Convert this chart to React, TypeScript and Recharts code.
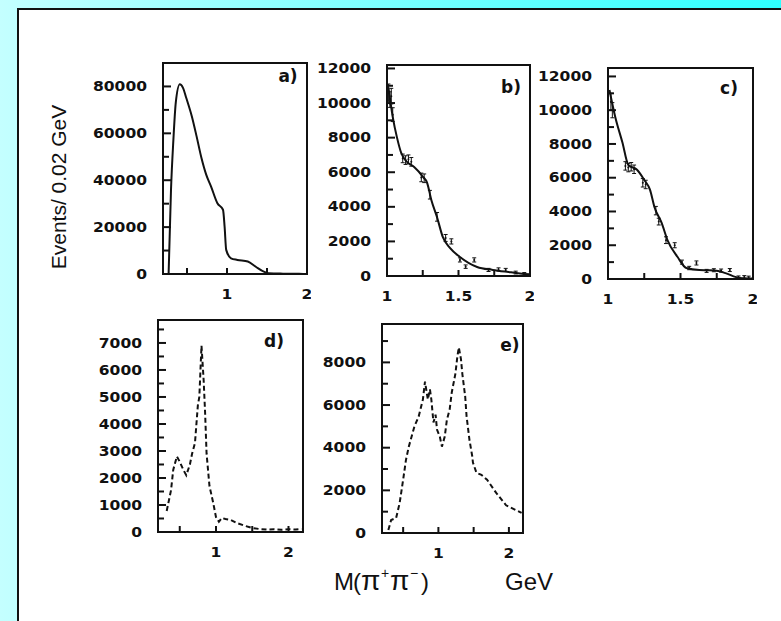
import React from "react";
import { ComposedChart, Line, Scatter, ErrorBar, XAxis, YAxis, ReferenceArea } from "recharts";

// a) full pi+pi- mass spectrum
const aMass = [0.27, 0.3, 0.33, 0.36, 0.41, 0.45, 0.49, 0.56, 0.62, 0.68, 0.74, 0.8, 0.88, 0.95, 0.97, 0.99, 1.05, 1.13, 1.26, 1.36, 1.46, 1.52, 1.6, 1.7, 1.8, 1.9, 2.0];
const aEvents = [0, 35900, 57300, 73200, 80900, 79400, 75200, 67300, 58700, 49600, 42400, 37400, 30200, 27400, 20200, 10300, 6700, 6000, 5300, 3100, 1000, 300, 200, 150, 100, 60, 40];

// b) fitted curve and measured points above 1 GeV
const bMass = [1.01, 1.04, 1.07, 1.1, 1.14, 1.19, 1.25, 1.28, 1.31, 1.35, 1.39, 1.44, 1.51, 1.63, 1.74, 1.85, 1.93, 2.0];
const bFit = [10900, 9200, 8000, 7100, 6600, 6300, 5750, 5400, 4400, 3400, 2260, 1620, 1100, 520, 350, 230, 150, 100];
const bPtMass = [1.01, 1.02, 1.03, 1.04, 1.11, 1.13, 1.15, 1.17, 1.24, 1.26, 1.3, 1.35, 1.41, 1.45, 1.51, 1.55, 1.61, 1.71, 1.78, 1.83, 1.9, 1.96];
const bPtEvents = [10600, 10200, 10400, 9330, 6800, 6700, 6750, 6600, 5700, 5650, 4700, 3420, 2200, 2000, 930, 540, 930, 350, 380, 350, 200, 120];
const bPtErr = [500, 450, 450, 400, 250, 250, 250, 250, 250, 250, 250, 250, 200, 150, 120, 100, 120, 90, 90, 90, 80, 80];

// c) second fit of the same region
const cMass = [1.01, 1.05, 1.1, 1.14, 1.2, 1.25, 1.29, 1.32, 1.37, 1.41, 1.48, 1.54, 1.63, 1.7, 1.76, 1.81, 1.91, 2.0];
const cFit = [11200, 9600, 8070, 6760, 6470, 5870, 5280, 4270, 3320, 2310, 1300, 650, 530, 520, 480, 350, 60, 30];
const cPtMass = [1.02, 1.03, 1.12, 1.14, 1.16, 1.18, 1.24, 1.26, 1.33, 1.35, 1.4, 1.46, 1.51, 1.56, 1.61, 1.68, 1.73, 1.78, 1.84, 1.9, 1.94, 1.97];
const cPtEvents = [10500, 10000, 6700, 6600, 6650, 6500, 5700, 5600, 4050, 3400, 2300, 2000, 1000, 650, 950, 480, 520, 500, 530, 100, 120, 90];
const cPtErr = [500, 450, 250, 250, 250, 250, 250, 250, 250, 200, 200, 150, 120, 100, 120, 90, 90, 90, 90, 80, 80, 80];

// d) and e) spectra with error bars
const dMass = [0.32, 0.38, 0.41, 0.46, 0.5, 0.55, 0.59, 0.64, 0.67, 0.71, 0.75, 0.77, 0.8, 0.83, 0.85, 0.87, 0.91, 0.96, 1.0, 1.04, 1.08, 1.13, 1.2, 1.29, 1.41, 1.5, 1.6, 1.7, 1.8, 1.9, 2.0, 2.1, 2.18];
const dEvents = [780, 1550, 2300, 2800, 2600, 2300, 2100, 2500, 2900, 3300, 4700, 5000, 6900, 5600, 4400, 2900, 1700, 1100, 550, 380, 520, 480, 450, 330, 220, 150, 110, 90, 100, 80, 100, 90, 110];
const eMass = [0.29, 0.33, 0.4, 0.45, 0.5, 0.54, 0.58, 0.66, 0.72, 0.78, 0.81, 0.85, 0.88, 0.9, 0.93, 0.96, 0.98, 1.02, 1.05, 1.09, 1.12, 1.16, 1.19, 1.24, 1.27, 1.29, 1.32, 1.34, 1.38, 1.4, 1.44, 1.48, 1.49, 1.54, 1.61, 1.69, 1.82, 1.96, 2.18];
const eEvents = [140, 610, 700, 1400, 2500, 3430, 4050, 5000, 5460, 6260, 7100, 6260, 6730, 6260, 5180, 5550, 4850, 4520, 4050, 4520, 5300, 5800, 6600, 7450, 8300, 8700, 8150, 7450, 6400, 5460, 4380, 3600, 3300, 2820, 2730, 2500, 1880, 1300, 940];

// axis ticks (minor + labelled)
const aYTicks = [0, 10000, 20000, 30000, 40000, 50000, 60000, 70000, 80000];
const aYLabels = [0, 20000, 40000, 60000, 80000];
const bcYTicks = [0, 1000, 2000, 3000, 4000, 5000, 6000, 7000, 8000, 9000, 10000, 11000, 12000];
const bcYLabels = [0, 2000, 4000, 6000, 8000, 10000, 12000];
const dYTicks = [0, 500, 1000, 1500, 2000, 2500, 3000, 3500, 4000, 4500, 5000, 5500, 6000, 6500, 7000, 7500];
const dYLabels = [0, 1000, 2000, 3000, 4000, 5000, 6000, 7000];
const eYTicks = [0, 1000, 2000, 3000, 4000, 5000, 6000, 7000, 8000, 9000];
const eYLabels = [0, 2000, 4000, 6000, 8000];
const wideXTicks = [0.5, 1, 1.5, 2];
const wideXLabels = [1, 2];
const highXTicks = [1, 1.25, 1.5, 1.75, 2];
const highXLabels = [1, 1.5, 2];

const ink = "#111";
const tickFont = "'DejaVu Sans', sans-serif";
const textFont = "'Liberation Sans', Arial, sans-serif";

type Row = { mass: number; events: number; err?: number };
const rows = (mass: number[], events: number[], err?: number[]): Row[] =>
  mass.map((m, i) => ({ mass: m, events: events[i], err: err ? err[i] : undefined }));

// inward tick marks, numbers only on the labelled values
const yTick = (labels: number[]) => (p: any) => {
  const v = p.payload.value;
  const major = labels.includes(v);
  return (
    <g>
      <line x1={p.x} x2={p.x + (major ? 8 : 6)} y1={p.y} y2={p.y} stroke={ink} strokeWidth={2} />
      {major && (
        <text
          transform={`translate(${p.x - 16},${p.y}) scale(1.15,1)`}
          textAnchor="end"
          dominantBaseline="central"
          fontFamily={tickFont}
          fontWeight="bold"
          fontSize={13.5}
          fill={ink}
        >
          {v}
        </text>
      )}
    </g>
  );
};

const xTick = (labels: number[]) => (p: any) => {
  const v = p.payload.value;
  const major = labels.includes(v);
  return (
    <g>
      <line x1={p.x} x2={p.x} y1={p.y} y2={p.y - 6} stroke={ink} strokeWidth={2} />
      {major && (
        <text
          transform={`translate(${p.x},${p.y + 20}) scale(1.15,1)`}
          textAnchor="middle"
          dominantBaseline="central"
          fontFamily={tickFont}
          fontWeight="bold"
          fontSize={13.5}
          fill={ink}
        >
          {v}
        </text>
      )}
    </g>
  );
};

const YW = 70;
const XH = 34;
const PAD = 4;

interface PanelProps {
  left: number;
  top: number;
  width: number;
  height: number;
  xDomain: [number, number];
  yDomain: [number, number];
  xTicks: number[];
  xLabels: number[];
  yTicks: number[];
  yLabels: number[];
  children: React.ReactNode;
}

function Panel(p: PanelProps) {
  return (
    <div style={{ position: "absolute", left: p.left - YW, top: p.top - PAD }}>
      <ComposedChart
        width={YW + p.width + PAD}
        height={PAD + p.height + XH}
        margin={{ top: PAD, right: PAD, bottom: 0, left: 0 }}
      >
        <XAxis
          type="number"
          dataKey="mass"
          domain={p.xDomain}
          allowDataOverflow
          ticks={p.xTicks}
          interval={0}
          height={XH}
          tickSize={0}
          tickMargin={0}
          tickLine={false}
          axisLine={{ stroke: ink, strokeWidth: 2 }}
          tick={xTick(p.xLabels)}
        />
        <YAxis
          type="number"
          dataKey="events"
          domain={p.yDomain}
          allowDataOverflow
          ticks={p.yTicks}
          interval={0}
          width={YW}
          tickSize={0}
          tickMargin={0}
          tickLine={false}
          axisLine={{ stroke: ink, strokeWidth: 2 }}
          tick={yTick(p.yLabels)}
        />
        <ReferenceArea
          x1={p.xDomain[0]}
          x2={p.xDomain[1]}
          y1={p.yDomain[0]}
          y2={p.yDomain[1]}
          fill="none"
          stroke={ink}
          strokeWidth={2}
          ifOverflow="visible"
        />
        {p.children}
      </ComposedChart>
    </div>
  );
}

const pointShape = (p: any) => <circle cx={p.cx} cy={p.cy} r={1} fill={ink} />;

export default function App() {
  return (
    <div
      style={{
        position: "absolute",
        left: 0,
        top: 0,
        width: 781,
        height: 621,
        overflow: "hidden",
        background: "linear-gradient(to right, #c4ffff, #2effff)",
      }}
    >
      <div
        style={{
          position: "absolute",
          left: 17,
          top: 8,
          right: 0,
          bottom: 0,
          background: "#fff",
          borderTop: `2px solid ${ink}`,
          borderLeft: `2px solid ${ink}`,
        }}
      />

      <Panel left={163} top={63} width={144} height={211} xDomain={[0.2, 2]} yDomain={[0, 90000]}
        xTicks={wideXTicks} xLabels={wideXLabels} yTicks={aYTicks} yLabels={aYLabels}>
        <Line data={rows(aMass, aEvents)} dataKey="events" type="monotone" stroke={ink} strokeWidth={2} dot={false} isAnimationActive={false} />
      </Panel>

      <Panel left={387} top={65} width={143} height={211} xDomain={[1, 2]} yDomain={[0, 12200]}
        xTicks={highXTicks} xLabels={highXLabels} yTicks={bcYTicks} yLabels={bcYLabels}>
        <Line data={rows(bMass, bFit)} dataKey="events" type="monotone" stroke={ink} strokeWidth={2} dot={false} isAnimationActive={false} />
        <Scatter data={rows(bPtMass, bPtEvents, bPtErr)} dataKey="events" shape={pointShape} isAnimationActive={false}>
          <ErrorBar dataKey="err" direction="y" width={2} stroke={ink} strokeWidth={1} isAnimationActive={false} />
        </Scatter>
      </Panel>

      <Panel left={608} top={68} width={145} height={211} xDomain={[1, 2]} yDomain={[0, 12500]}
        xTicks={highXTicks} xLabels={highXLabels} yTicks={bcYTicks} yLabels={bcYLabels}>
        <Line data={rows(cMass, cFit)} dataKey="events" type="monotone" stroke={ink} strokeWidth={2} dot={false} isAnimationActive={false} />
        <Scatter data={rows(cPtMass, cPtEvents, cPtErr)} dataKey="events" shape={pointShape} isAnimationActive={false}>
          <ErrorBar dataKey="err" direction="y" width={2} stroke={ink} strokeWidth={1} isAnimationActive={false} />
        </Scatter>
      </Panel>

      <Panel left={158} top={320} width={145} height={212} xDomain={[0.2, 2.2]} yDomain={[0, 7850]}
        xTicks={wideXTicks} xLabels={wideXLabels} yTicks={dYTicks} yLabels={dYLabels}>
        <Line data={rows(dMass, dEvents)} dataKey="events" type="linear" stroke={ink} strokeWidth={2} strokeDasharray="5 3" dot={false} isAnimationActive={false} />
      </Panel>

      <Panel left={382} top={324} width={141} height={209} xDomain={[0.2, 2.2]} yDomain={[0, 9800]}
        xTicks={wideXTicks} xLabels={wideXLabels} yTicks={eYTicks} yLabels={eYLabels}>
        <Line data={rows(eMass, eEvents)} dataKey="events" type="linear" stroke={ink} strokeWidth={2} strokeDasharray="5 3" dot={false} isAnimationActive={false} />
      </Panel>

      <svg width={781} height={621} style={{ position: "absolute", left: 0, top: 0, pointerEvents: "none" }}>
        <g fontFamily={tickFont} fontWeight="bold" fontSize={17} fill={ink}>
          <text x={288} y={76} textAnchor="middle" dominantBaseline="central">a)</text>
          <text x={511} y={87} textAnchor="middle" dominantBaseline="central">b)</text>
          <text x={729} y={88} textAnchor="middle" dominantBaseline="central">c)</text>
          <text x={274} y={341} textAnchor="middle" dominantBaseline="central">d)</text>
          <text x={510} y={345} textAnchor="middle" dominantBaseline="central">e)</text>
        </g>
        <text
          transform="translate(58,187) rotate(-90)"
          textAnchor="middle"
          dominantBaseline="central"
          fontFamily={textFont}
          fontSize={21}
          fill={ink}
        >
          Events/ 0.02 GeV
        </text>
        <text y={590} fontFamily={textFont} fontSize={24} fill={ink}>
          <tspan x={334}>M</tspan>
          <tspan x={353}>(</tspan>
          <tspan x={361} fontSize={28}>π</tspan>
          <tspan x={381} dy={-12} fontSize={14}>+</tspan>
          <tspan x={390} dy={12} fontSize={28}>π</tspan>
          <tspan x={410} dy={-12} fontSize={14}>−</tspan>
          <tspan x={421} dy={12}>)</tspan>
        </text>
        <text x={505} y={590} fontFamily={textFont} fontSize={24} fill={ink}>
          GeV
        </text>
      </svg>
    </div>
  );
}
